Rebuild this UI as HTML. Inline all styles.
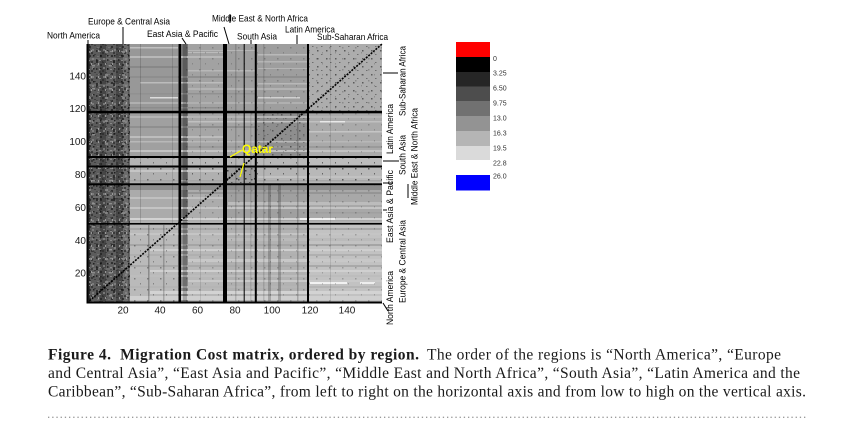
<!DOCTYPE html>
<html>
<head>
<meta charset="utf-8">
<style>
html,body{margin:0;padding:0;background:#fff;width:847px;height:431px;overflow:hidden}
svg{display:block}
.s{font-family:"Liberation Sans",Arial,sans-serif}
.r{font-family:"Liberation Serif","Times New Roman",serif}
</style>
</head>
<body>
<svg width="847" height="431" viewBox="0 0 847 431" xmlns="http://www.w3.org/2000/svg">
<defs>
<pattern id="mot" width="11" height="9" patternUnits="userSpaceOnUse">
<rect x="1" y="1" width="2" height="2" fill="#1e1e1e"/>
<rect x="6" y="0" width="2" height="1" fill="#333"/>
<rect x="4" y="4" width="2" height="2" fill="#8a8a8a"/>
<rect x="8" y="5" width="1.5" height="2" fill="#1a1a1a"/>
<rect x="0" y="6" width="2" height="1" fill="#9a9a9a"/>
<rect x="3" y="7" width="2" height="2" fill="#2a2a2a"/>
<rect x="9" y="2" width="2" height="1" fill="#7a7a7a"/>
</pattern>
<pattern id="mot2" width="7" height="13" patternUnits="userSpaceOnUse">
<rect x="2" y="3" width="1.5" height="1.5" fill="#111"/>
<rect x="5" y="9" width="2" height="1" fill="#444"/>
<rect x="0" y="11" width="1" height="2" fill="#aaa"/>
</pattern>
<pattern id="mot3" width="17" height="23" patternUnits="userSpaceOnUse">
<rect x="3" y="5" width="3" height="2" fill="#8c8c8c"/>
<rect x="11" y="14" width="2" height="3" fill="#222"/>
<rect x="7" y="19" width="3" height="1.5" fill="#999"/>
<rect x="14" y="2" width="2" height="2" fill="#333"/>
</pattern>
<pattern id="spk" width="9" height="8" patternUnits="userSpaceOnUse">
<rect x="2" y="2" width="1.5" height="1.5" fill="#222"/>
<rect x="6" y="6" width="1.5" height="1" fill="#444"/>
</pattern>
<pattern id="spk2" width="13" height="11" patternUnits="userSpaceOnUse">
<rect x="4" y="3" width="1.5" height="1.5" fill="#222"/>
<rect x="10" y="8" width="1" height="1.5" fill="#333"/>
</pattern>
</defs>

<!-- matrix base -->
<rect x="87" y="44" width="295" height="259" fill="#a6a6a6"/>
<rect x="87" y="44" width="3" height="259" fill="#2e2e2e"/>
<rect x="90" y="44" width="10" height="259" fill="#5c5c5c"/>
<rect x="100" y="44" width="6" height="259" fill="#464646"/>
<rect x="106" y="44" width="10" height="259" fill="#5e5e5e"/>
<rect x="116" y="44" width="7" height="259" fill="#484848"/>
<rect x="123" y="44" width="7" height="259" fill="#6c6c6c"/>
<rect x="130" y="44" width="48" height="68" fill="#989898"/>
<rect x="130" y="112" width="48" height="45" fill="#a0a0a0"/>
<rect x="130" y="157" width="48" height="9" fill="#b4b4b4"/>
<rect x="130" y="166" width="48" height="18" fill="#b0b0b0"/>
<rect x="130" y="184" width="48" height="40" fill="#ababab"/>
<rect x="130" y="224" width="48" height="79" fill="#bababa"/>
<rect x="181" y="44" width="7" height="180" fill="#727272"/>
<rect x="181" y="224" width="7" height="79" fill="#8a8a8a"/>
<rect x="188" y="44" width="36" height="68" fill="#a2a2a2"/>
<rect x="188" y="112" width="36" height="45" fill="#a6a6a6"/>
<rect x="188" y="157" width="36" height="9" fill="#b8b8b8"/>
<rect x="188" y="166" width="36" height="18" fill="#b0b0b0"/>
<rect x="188" y="184" width="36" height="40" fill="#acacac"/>
<rect x="188" y="224" width="36" height="79" fill="#b8b8b8"/>
<rect x="227" y="44" width="29" height="68" fill="#9e9e9e"/>
<rect x="227" y="112" width="29" height="45" fill="#a4a4a4"/>
<rect x="227" y="157" width="29" height="9" fill="#b6b6b6"/>
<rect x="227" y="166" width="29" height="18" fill="#9c9c9c"/>
<rect x="227" y="184" width="29" height="40" fill="#a0a0a0"/>
<rect x="227" y="224" width="29" height="79" fill="#b0b0b0"/>
<rect x="257" y="44" width="51" height="68" fill="#9e9e9e"/>
<rect x="257" y="112" width="51" height="45" fill="#8e8e8e"/>
<rect x="257" y="157" width="51" height="9" fill="#b8b8b8"/>
<rect x="257" y="166" width="51" height="18" fill="#b4b4b4"/>
<rect x="257" y="184" width="51" height="40" fill="#a0a0a0"/>
<rect x="257" y="224" width="51" height="79" fill="#b2b2b2"/>
<rect x="308" y="44" width="74" height="68" fill="#adadad"/>
<rect x="308" y="112" width="74" height="45" fill="#aaaaaa"/>
<rect x="308" y="157" width="74" height="9" fill="#bdbdbd"/>
<rect x="308" y="166" width="74" height="18" fill="#b8b8b8"/>
<rect x="308" y="184" width="74" height="40" fill="#a8a8a8"/>
<rect x="308" y="224" width="74" height="79" fill="#c2c2c2"/>

<!-- horizontal streaks -->
<g>
<rect x="130" y="47" width="48" height="1.5" fill="#c0c0c0"/>
<rect x="188" y="52" width="36" height="1" fill="#bbb"/>
<rect x="130" y="56" width="94" height="2" fill="#b8b8b8"/>
<rect x="258" y="61" width="49" height="1.5" fill="#b5b5b5"/>
<rect x="130" y="66" width="48" height="2" fill="#888"/>
<rect x="188" y="70" width="68" height="1.5" fill="#b8b8b8"/>
<rect x="130" y="76" width="178" height="2" fill="#8e8e8e"/>
<rect x="140" y="82" width="84" height="1.5" fill="#bcbcbc"/>
<rect x="188" y="88" width="119" height="2" fill="#b3b3b3"/>
<rect x="130" y="93" width="126" height="1.5" fill="#919191"/>
<rect x="150" y="97" width="28" height="1.5" fill="#dcdcdc"/>
<rect x="258" y="97" width="42" height="1.5" fill="#d0d0d0"/>
<rect x="130" y="102" width="177" height="2" fill="#b0b0b0"/>
<rect x="130" y="107" width="94" height="1.5" fill="#8c8c8c"/>
<rect x="188" y="50" width="68" height="1" fill="#b6b6b6"/>
<rect x="258" y="54" width="49" height="1.5" fill="#b9b9b9"/>
<rect x="258" y="68" width="49" height="1" fill="#b4b4b4"/>
<rect x="258" y="83" width="49" height="1.5" fill="#b8b8b8"/>
<rect x="130" y="116" width="252" height="2" fill="#b5b5b5"/>
<rect x="188" y="121" width="194" height="1.5" fill="#c0c0c0"/>
<rect x="320" y="121" width="25" height="1.5" fill="#e8e8e8"/>
<rect x="130" y="126" width="126" height="2" fill="#8f8f8f"/>
<rect x="309" y="131" width="73" height="1.5" fill="#c5c5c5"/>
<rect x="130" y="136" width="94" height="2" fill="#bdbdbd"/>
<rect x="130" y="141" width="252" height="1.5" fill="#b8b8b8"/>
<rect x="188" y="146" width="194" height="2" fill="#9a9a9a"/>
<rect x="130" y="150" width="252" height="2" fill="#c2c2c2"/>
<rect x="130" y="170" width="94" height="2" fill="#c5c5c5"/>
<rect x="258" y="176" width="124" height="2" fill="#c2c2c2"/>
<rect x="130" y="180" width="252" height="1.5" fill="#a5a5a5"/>
<rect x="130" y="186" width="252" height="4" fill="#8c8c8c"/>
<rect x="188" y="192" width="194" height="2" fill="#959595"/>
<rect x="130" y="197" width="94" height="2" fill="#c0c0c0"/>
<rect x="228" y="202" width="154" height="3" fill="#bcbcbc"/>
<rect x="130" y="207" width="252" height="2" fill="#c4c4c4"/>
<rect x="258" y="212" width="124" height="1.5" fill="#a0a0a0"/>
<rect x="130" y="218" width="252" height="2" fill="#d2d2d2"/>
<rect x="300" y="218" width="35" height="2" fill="#f2f2f2"/>
<rect x="130" y="221" width="252" height="1.5" fill="#b0b0b0"/>
<rect x="130" y="228" width="252" height="2" fill="#a8a8a8"/>
<rect x="130" y="233" width="252" height="2" fill="#c5c5c5"/>
<rect x="188" y="238" width="194" height="3" fill="#bababa"/>
<rect x="130" y="244" width="252" height="2" fill="#a5a5a5"/>
<rect x="150" y="249" width="232" height="2" fill="#cfcfcf"/>
<rect x="130" y="254" width="252" height="2" fill="#b0b0b0"/>
<rect x="188" y="259" width="194" height="3" fill="#c8c8c8"/>
<rect x="130" y="265" width="252" height="2" fill="#a9a9a9"/>
<rect x="150" y="270" width="232" height="2" fill="#d0d0d0"/>
<rect x="130" y="275" width="252" height="2" fill="#bdbdbd"/>
<rect x="188" y="280" width="194" height="2" fill="#c9c9c9"/>
<rect x="310" y="282" width="37" height="2" fill="#f2f2f2"/>
<rect x="360" y="282" width="15" height="2" fill="#eeeeee"/>
<rect x="130" y="286" width="252" height="2" fill="#b5b5b5"/>
<rect x="150" y="291" width="232" height="3" fill="#d3d3d3"/>
<rect x="130" y="296" width="252" height="4" fill="#cfcfcf"/>
</g>
<g fill="#888" opacity="0.35">
<rect x="89" y="58" width="41" height="2"/>
<rect x="89" y="84" width="41" height="2"/>
<rect x="89" y="120" width="41" height="2"/>
<rect x="89" y="150" width="41" height="2"/>
<rect x="89" y="196" width="41" height="2"/>
<rect x="89" y="238" width="41" height="2"/>
<rect x="89" y="268" width="41" height="2"/>
</g>
<!-- textures -->
<rect x="89" y="44" width="41" height="259" fill="url(#mot)" opacity="0.7"/>
<rect x="89" y="44" width="41" height="259" fill="url(#mot2)" opacity="0.8"/>
<rect x="89" y="44" width="41" height="259" fill="url(#mot3)" opacity="0.8"/>
<rect x="309" y="44" width="73" height="67" fill="url(#spk)" opacity="0.6"/>
<rect x="258" y="113" width="49" height="43" fill="url(#spk)" opacity="0.5"/>
<rect x="227" y="167" width="28" height="16" fill="url(#spk)" opacity="0.8"/>
<rect x="130" y="157" width="252" height="27" fill="url(#spk2)" opacity="0.5"/>
<rect x="181" y="44" width="201" height="259" fill="url(#spk2)" opacity="0.25"/>
<rect x="130" y="224" width="48" height="79" fill="url(#spk2)" opacity="0.4"/>

<g fill="#000">
<rect x="148" y="225" width="1.5" height="76" opacity="0.25"/>
<rect x="163" y="225" width="1.5" height="76" opacity="0.2"/>
<rect x="140" y="44" width="1" height="180" opacity="0.15"/>
<rect x="128" y="44" width="1" height="257" opacity="0.2"/>
<rect x="183" y="44" width="4" height="257" opacity="0.2"/>
<rect x="268" y="185" width="3" height="116" opacity="0.2"/>
<rect x="278" y="185" width="3" height="116" opacity="0.2"/>
<rect x="297" y="113" width="1.5" height="188" opacity="0.2"/>
<rect x="263" y="44" width="1.5" height="257" opacity="0.12"/>
<rect x="235" y="44" width="1.5" height="257" opacity="0.15"/>
<rect x="250" y="113" width="1.5" height="188" opacity="0.1"/>
<rect x="330" y="44" width="1" height="257" opacity="0.1"/>
<rect x="172" y="44" width="1" height="180" opacity="0.12"/>
<rect x="200" y="44" width="1" height="257" opacity="0.1"/>
</g>

<!-- grid lines -->
<g fill="#000">
<rect x="86.5" y="44" width="2" height="259.5"/>
<rect x="178.5" y="44" width="2.5" height="259"/>
<rect x="223" y="44" width="4" height="259"/>
<rect x="243.7" y="44" width="1" height="259"/>
<rect x="254.8" y="44" width="2" height="259"/>
<rect x="307" y="44" width="2" height="259"/>
<rect x="87" y="110.8" width="295" height="2.5"/>
<rect x="87" y="156" width="295" height="2"/>
<rect x="87" y="165.5" width="295" height="2"/>
<rect x="87" y="183.3" width="295" height="2"/>
<rect x="87" y="223" width="295" height="1.6"/>
<rect x="86.5" y="301.5" width="295.5" height="2"/>
</g>
<line x1="87" y1="303" x2="382" y2="44" stroke="#000" stroke-width="1.6" stroke-dasharray="2 1.2"/>

<!-- Qatar -->
<line x1="242" y1="150" x2="230" y2="157" stroke="#ffff00" stroke-width="1.2"/>
<line x1="244" y1="163" x2="240" y2="177" stroke="#ffff00" stroke-width="1.2"/>
<text x="242" y="153" class="s" font-size="11.5" font-weight="bold" fill="#ffff00" textLength="31" lengthAdjust="spacingAndGlyphs">Qatar</text>

<!-- tick labels -->
<g class="s" font-size="10" fill="#1a1a1a">
<text x="86" y="79.3" text-anchor="end">140</text>
<text x="86" y="112.2" text-anchor="end">120</text>
<text x="86" y="145.1" text-anchor="end">100</text>
<text x="86" y="178" text-anchor="end">80</text>
<text x="86" y="210.9" text-anchor="end">60</text>
<text x="86" y="243.8" text-anchor="end">40</text>
<text x="86" y="276.7" text-anchor="end">20</text>
<text x="123" y="313.6" text-anchor="middle">20</text>
<text x="160" y="313.6" text-anchor="middle">40</text>
<text x="197.5" y="313.6" text-anchor="middle">60</text>
<text x="235" y="313.6" text-anchor="middle">80</text>
<text x="272" y="313.6" text-anchor="middle">100</text>
<text x="310" y="313.6" text-anchor="middle">120</text>
<text x="347" y="313.6" text-anchor="middle">140</text>
</g>

<!-- top region labels -->
<g class="s" font-size="9" fill="#000">
<text x="47" y="38.5" textLength="53" lengthAdjust="spacingAndGlyphs">North America</text>
<text x="88" y="24.5" textLength="82" lengthAdjust="spacingAndGlyphs">Europe &amp; Central Asia</text>
<text x="147" y="37" textLength="71" lengthAdjust="spacingAndGlyphs">East Asia &amp; Pacific</text>
<text x="212" y="21.5" textLength="96" lengthAdjust="spacingAndGlyphs">Middle East &amp; North Africa</text>
<text x="237" y="39.5" textLength="40" lengthAdjust="spacingAndGlyphs">South Asia</text>
<text x="285" y="32.5" textLength="50" lengthAdjust="spacingAndGlyphs">Latin America</text>
<text x="317" y="40" textLength="71" lengthAdjust="spacingAndGlyphs">Sub-Saharan Africa</text>
</g>
<g stroke="#000" stroke-width="1">
<line x1="88" y1="40" x2="88" y2="44"/>
<line x1="123" y1="27" x2="123" y2="44"/>
<line x1="182" y1="38" x2="186" y2="44"/>
<line x1="230" y1="14" x2="230" y2="23"/>
<line x1="224" y1="27" x2="229" y2="44"/>
<line x1="251" y1="40" x2="251" y2="44"/>
<line x1="297" y1="35" x2="297" y2="44"/>
<line x1="383" y1="73" x2="398" y2="73"/>
<line x1="383" y1="161" x2="399" y2="161"/>
<line x1="383" y1="183" x2="393" y2="183"/>
<line x1="408" y1="184" x2="408" y2="198"/>
<line x1="383" y1="210" x2="387" y2="210"/>
<line x1="383" y1="303" x2="388" y2="311"/>
</g>

<!-- right rotated labels -->
<g class="s" font-size="9" fill="#000">
<text transform="translate(393,325) rotate(-90)" textLength="54" lengthAdjust="spacingAndGlyphs">North America</text>
<text transform="translate(393,243) rotate(-90)" textLength="73" lengthAdjust="spacingAndGlyphs">East Asia &amp; Pacific</text>
<text transform="translate(393,154) rotate(-90)" textLength="50" lengthAdjust="spacingAndGlyphs">Latin America</text>
<text transform="translate(405.5,303) rotate(-90)" textLength="83" lengthAdjust="spacingAndGlyphs">Europe &amp; Central Asia</text>
<text transform="translate(405.5,175) rotate(-90)" textLength="40" lengthAdjust="spacingAndGlyphs">South Asia</text>
<text transform="translate(405.5,116) rotate(-90)" textLength="70" lengthAdjust="spacingAndGlyphs">Sub-Saharan Africa</text>
<text transform="translate(417.5,205) rotate(-90)" textLength="97" lengthAdjust="spacingAndGlyphs">Middle East &amp; North Africa</text>
</g>

<!-- legend -->
<rect x="456" y="42" width="34" height="15" fill="#ff0000"/>
<rect x="456" y="57" width="34" height="15" fill="#000000"/>
<rect x="456" y="72" width="34" height="14.5" fill="#262626"/>
<rect x="456" y="86.5" width="34" height="14.5" fill="#4d4d4d"/>
<rect x="456" y="101" width="34" height="15" fill="#717171"/>
<rect x="456" y="116" width="34" height="15" fill="#939393"/>
<rect x="456" y="131" width="34" height="15" fill="#b5b5b5"/>
<rect x="456" y="146" width="34" height="14" fill="#dadada"/>
<rect x="456" y="175" width="34" height="15.5" fill="#0000ff"/>
<g class="s" font-size="7" fill="#333">
<text x="493" y="61">0</text>
<text x="493" y="75.5">3.25</text>
<text x="493" y="90.5">6.50</text>
<text x="493" y="105.5">9.75</text>
<text x="493" y="120.5">13.0</text>
<text x="493" y="135.5">16.3</text>
<text x="493" y="150.5">19.5</text>
<text x="493" y="165.5">22.8</text>
<text x="493" y="178.5">26.0</text>
</g>

<!-- caption -->
<g class="r" font-size="15.5" fill="#1a1a1a">
<text x="48" y="359.5" font-weight="bold" textLength="371" lengthAdjust="spacing">Figure 4.&#160; Migration Cost matrix, ordered by region.</text>
<text x="427" y="359.5" textLength="354" lengthAdjust="spacing">The order of the regions is “North America”, “Europe</text>
<text x="48" y="378" textLength="752" lengthAdjust="spacing">and Central Asia”, “East Asia and Pacific”, “Middle East and North Africa”, “South Asia”, “Latin America and the</text>
<text x="48" y="396.5" textLength="758" lengthAdjust="spacing">Caribbean”, “Sub-Saharan Africa”, from left to right on the horizontal axis and from low to high on the vertical axis.</text>
</g>
<line x1="48" y1="417.3" x2="808" y2="417.3" stroke="#9a9a9a" stroke-width="1.3" stroke-dasharray="1.3 2.9"/>
</svg>
</body>
</html>
